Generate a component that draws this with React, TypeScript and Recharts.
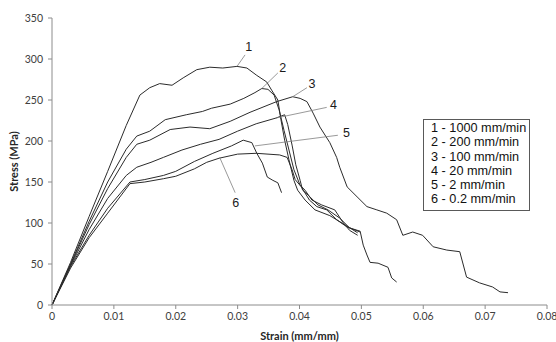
import React from 'react';
import {
  LineChart, Line, XAxis, YAxis, ReferenceLine, ReferenceDot, Label,
} from 'recharts';

// strain (mm/mm) / stress (MPa)
const STRAIN_1 = [0, 0.003, 0.006, 0.009, 0.012, 0.0142, 0.0158, 0.0174, 0.0194, 0.0212, 0.0234, 0.0255, 0.0276, 0.0299, 0.0315, 0.0331, 0.0347, 0.0355, 0.0365, 0.037, 0.0376, 0.0383, 0.0391, 0.0397, 0.0409, 0.0425, 0.0449, 0.0473, 0.0494];
const STRESS_1 = [0, 52, 108, 163, 219, 256, 265, 270, 268, 277, 287, 290, 289, 291, 289, 280, 272, 262, 250, 226, 201, 177, 152, 140, 128, 116, 109, 98, 88];

const STRAIN_2 = [0, 0.003, 0.006, 0.009, 0.012, 0.0137, 0.0158, 0.0183, 0.0217, 0.0243, 0.0258, 0.0288, 0.031, 0.0328, 0.0339, 0.0349, 0.0359, 0.0367, 0.0375, 0.0383, 0.0391, 0.0401, 0.0409, 0.042, 0.0436, 0.0457, 0.047, 0.0481, 0.0494];
const STRESS_2 = [0, 50, 102, 150, 190, 206, 212, 226, 232, 236, 240, 245, 252, 259, 264, 263, 256, 238, 213, 189, 165, 146, 140, 128, 122, 116, 101, 91, 85];

const STRAIN_3 = [0, 0.003, 0.006, 0.009, 0.012, 0.0137, 0.0158, 0.0191, 0.0223, 0.0255, 0.0288, 0.032, 0.0363, 0.0389, 0.0401, 0.0412, 0.0422, 0.0433, 0.0449, 0.046, 0.0465, 0.0477, 0.0493, 0.0509, 0.0525, 0.0541, 0.0557, 0.0567, 0.0583, 0.0599, 0.0616, 0.0638, 0.0659, 0.067, 0.0691, 0.0712, 0.0724, 0.0737];
const STRESS_3 = [0, 49, 98, 142, 180, 196, 201, 214, 217, 215, 224, 235, 248, 254, 252, 248, 234, 217, 198, 180, 168, 144, 132, 120, 116, 112, 104, 85, 89, 85, 71, 67, 65, 34, 27, 22, 16, 15];

const STRAIN_4 = [0, 0.003, 0.006, 0.009, 0.012, 0.0137, 0.016, 0.018, 0.021, 0.024, 0.027, 0.03, 0.033, 0.0362, 0.0376, 0.0381, 0.0388, 0.0394, 0.0401, 0.0405, 0.0414, 0.043, 0.0446, 0.0465, 0.0481, 0.0498];
const STRESS_4 = [0, 48, 92, 130, 158, 168, 174, 180, 189, 196, 202, 212, 221, 228, 232, 220, 195, 171, 152, 140, 134, 122, 116, 106, 94, 89];

const STRAIN_5 = [0, 0.003, 0.006, 0.009, 0.0126, 0.015, 0.018, 0.02, 0.023, 0.026, 0.029, 0.0309, 0.0323, 0.0331, 0.034, 0.0348, 0.0357, 0.0365, 0.0371];
const STRESS_5 = [0, 47, 85, 118, 150, 153, 158, 163, 175, 185, 194, 201, 198, 185, 173, 156, 152, 149, 137];

const STRAIN_6 = [0, 0.003, 0.006, 0.009, 0.0126, 0.015, 0.018, 0.02, 0.023, 0.025, 0.027, 0.03, 0.033, 0.0368, 0.038, 0.0388, 0.0393, 0.0403, 0.0416, 0.0428, 0.0444, 0.046, 0.0477, 0.0498, 0.0503, 0.0509, 0.0514, 0.0527, 0.0543, 0.0549, 0.0557];
const STRESS_6 = [0, 45, 82, 112, 148, 150, 154, 157, 166, 174, 179, 184, 185, 183, 180, 165, 153, 144, 128, 120, 116, 104, 95, 90, 73, 61, 52, 51, 46, 33, 28];

const RATES = ['1 - 1000 mm/min', '2 - 200 mm/min', '3 - 100 mm/min', '4 - 20 mm/min', '5 - 2 mm/min', '6 - 0.2 mm/min'];

const X_TICKS = [0, 0.01, 0.02, 0.03, 0.04, 0.05, 0.06, 0.07, 0.08];
const Y_TICKS = [0, 50, 100, 150, 200, 250, 300, 350];

// numbered callouts: label position, leader start, leader end (on the curve)
const CALLOUT_IDS = ['1', '2', '3', '4', '5', '6'];
const CALLOUT_AT = [[0.0318, 315], [0.0373, 290], [0.042, 270], [0.0455, 244], [0.0476, 210], [0.0297, 125]];
const LEADER_FROM = [[0.0312, 305], [0.0365, 283], [0.0412, 265], [0.0444, 241], [0.0462, 207], [0.0296, 137]];
const LEADER_TO = [[0.0299, 291], [0.0339, 264], [0.0389, 254], [0.0362, 228], [0.0328, 194], [0.0271, 180]];

const toPoints = (xs: number[], ys: number[]) => xs.map((x, i) => ({ x, y: ys[i] }));

const SERIES = [
  toPoints(STRAIN_1, STRESS_1),
  toPoints(STRAIN_2, STRESS_2),
  toPoints(STRAIN_3, STRESS_3),
  toPoints(STRAIN_4, STRESS_4),
  toPoints(STRAIN_5, STRESS_5),
  toPoints(STRAIN_6, STRESS_6),
];

const TICK_STYLE = { fill: '#404040', fontSize: 10.5, fontFamily: 'Lato, sans-serif' };
const TITLE_STYLE = { fill: '#262626', fontSize: 11, fontWeight: 700, fontFamily: 'Lato, sans-serif' };

export default function App() {
  return (
    <div style={{ position: 'absolute', left: 0, top: 0, width: 556, height: 342, background: '#fff' }}>
      <LineChart width={556} height={342} margin={{ top: 18, right: 9, left: 0, bottom: 0 }}>
        <XAxis
          type="number" dataKey="x" domain={[0, 0.08]} ticks={X_TICKS} interval={0}
          tickFormatter={(v: number) => (v === 0 ? '0' : v.toFixed(2))}
          height={37} tickSize={4} tickMargin={4}
          stroke="#8c8c8c" tick={TICK_STYLE}
        >
          <Label value="Strain (mm/mm)" position="insideBottom" offset={2} style={TITLE_STYLE} />
        </XAxis>
        <YAxis
          type="number" dataKey="y" domain={[0, 350]} ticks={Y_TICKS} interval={0}
          width={52} tickSize={4} tickMargin={5}
          stroke="#8c8c8c" tick={TICK_STYLE}
        >
          <Label value="Stress (MPa)" angle={-90} position="insideLeft" offset={14} style={{ ...TITLE_STYLE, textAnchor: 'middle' }} />
        </YAxis>
        {SERIES.map((d, i) => (
          <Line
            key={RATES[i]} name={RATES[i]} data={d} dataKey="y" type="linear"
            stroke="#2b2b2b" strokeWidth={1} dot={false} isAnimationActive={false}
          />
        ))}
        {CALLOUT_IDS.map((id, i) => (
          <ReferenceLine
            key={'l' + id}
            segment={[{ x: LEADER_FROM[i][0], y: LEADER_FROM[i][1] }, { x: LEADER_TO[i][0], y: LEADER_TO[i][1] }]}
            stroke="#7f7f7f" strokeWidth={0.8}
          />
        ))}
        {CALLOUT_IDS.map((id, i) => (
          <ReferenceDot
            key={'d' + id} x={CALLOUT_AT[i][0]} y={CALLOUT_AT[i][1]} r={0}
            fill="none" stroke="none"
            label={{ value: id, position: 'center', fill: '#1a1a1a', fontSize: 12.5, fontFamily: '"Liberation Sans", Arial, sans-serif' }}
          />
        ))}
      </LineChart>
      <div style={{
        position: 'absolute', left: 423, top: 119, width: 91, whiteSpace: 'nowrap',
        border: '1px solid #595959', background: '#fff', padding: '1px 7px 3px 7px',
        fontFamily: '"Liberation Sans", Arial, sans-serif', fontSize: 12.7, lineHeight: '14.3px', color: '#111',
      }}>
        {RATES.map(r => <div key={r}>{r}</div>)}
      </div>
    </div>
  );
}
